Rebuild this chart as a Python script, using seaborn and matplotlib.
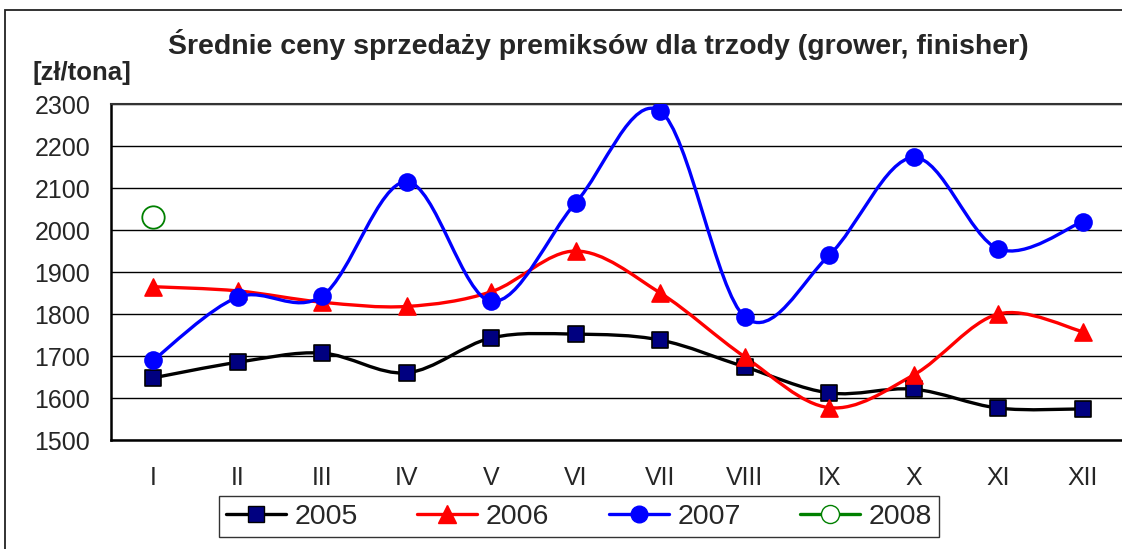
import numpy as np
import matplotlib
matplotlib.use('Agg')
import matplotlib.pyplot as plt
from matplotlib.path import Path
from matplotlib.patches import PathPatch, Rectangle
from matplotlib.lines import Line2D
import seaborn as sns

months = ['I', 'II', 'III', 'IV', 'V', 'VI', 'VII', 'VIII', 'IX', 'X', 'XI', 'XII']
prices_2005 = [1648, 1685, 1707, 1660, 1743, 1752, 1738, 1674, 1612, 1621, 1576, 1574]
prices_2006 = [1865, 1855, 1828, 1818, 1853, 1950, 1850, 1698, 1577, 1655, 1800, 1758]
prices_2007 = [1690, 1840, 1843, 2115, 1830, 2065, 2283, 1793, 1940, 2173, 1955, 2020]
prices_2008 = [2030]
years = ['2005', '2006', '2007', '2008']

sns.set_style('white')
plt.rcParams['font.family'] = ['Liberation Sans', 'DejaVu Sans']


def smooth_path(xs, ys):
    # Excel-style smoothed line: cubic Bezier through the points (Catmull-Rom control points)
    pts = np.column_stack([xs, ys]).astype(float)
    n = len(pts)
    verts = [pts[0]]
    codes = [Path.MOVETO]
    for i in range(n - 1):
        p0 = pts[max(i - 1, 0)]
        p1 = pts[i]
        p2 = pts[i + 1]
        p3 = pts[min(i + 2, n - 1)]
        verts += [p1 + (p2 - p0) / 6, p2 - (p3 - p1) / 6, p2]
        codes += [Path.CURVE4] * 3
    return Path(verts, codes)


fig = plt.figure(figsize=(11.22, 5.49), dpi=100)
ax = fig.add_axes([111 / 1122, 1 - 440 / 549, 1014 / 1122, 336 / 549])

styles = [
    (prices_2005, 'black', 's', '#000080', 'black', 130),
    (prices_2006, '#ff0000', '^', '#ff0000', '#ff0000', 150),
    (prices_2007, '#0000ff', 'o', '#0000ff', '#0000ff', 150),
]
for vals, lc, mk, fc, ec, sz in styles:
    x = np.arange(len(vals))
    ax.add_patch(PathPatch(smooth_path(x, vals), facecolor='none', edgecolor=lc,
                           lw=2.4, zorder=3, capstyle='round', joinstyle='round'))
    sns.scatterplot(x=x, y=vals, marker=mk, s=sz, color=fc, edgecolor=ec,
                    linewidth=1.2, ax=ax, zorder=4, legend=False)

sns.scatterplot(x=np.arange(len(prices_2008)), y=prices_2008, marker='o', s=260,
                facecolor='white', edgecolor='#008000', linewidth=1.3, ax=ax,
                zorder=4, legend=False)

ax.set_xlim(-0.5, 11.5)
ax.set_ylim(1500, 2300)
ax.set_yticks(np.arange(1500, 2301, 100))
ax.set_xticks(np.arange(12))
ax.set_xticklabels(months)
ax.set_xticks(np.arange(-0.5, 12, 1), minor=True)
ax.tick_params(axis='x', which='major', length=0, pad=19, labelsize=18)
ax.tick_params(axis='x', which='minor', direction='in', length=7, width=1, color='black')
ax.tick_params(axis='y', direction='out', length=6, width=1, color='black', pad=9, labelsize=18)
ax.yaxis.grid(True, color='black', lw=1)
ax.set_axisbelow(True)
for side in ['left', 'bottom']:
    ax.spines[side].set_color('black')
    ax.spines[side].set_linewidth(1.8)
ax.spines['top'].set_color('#333333')
ax.spines['top'].set_linewidth(1.5)
ax.spines['right'].set_visible(False)
ax.set_xlabel('')
ax.set_ylabel('')

fig.text(598 / 1122, 1 - 45 / 549, 'Średnie ceny sprzedaży premiksów dla trzody (grower, finisher)',
         ha='center', va='center', fontsize=20.5, fontweight='bold')
fig.text(32 / 1122, 1 - 73 / 549, '[zł/tona]', ha='left', va='center',
         fontsize=18.5, fontweight='bold')

handles = [
    Line2D([], [], color='black', lw=2.4, marker='s', ms=12, mfc='#000080', mec='black'),
    Line2D([], [], color='#ff0000', lw=2.4, marker='^', ms=13, mfc='#ff0000', mec='#ff0000'),
    Line2D([], [], color='#0000ff', lw=2.4, marker='o', ms=12, mfc='#0000ff', mec='#0000ff'),
    Line2D([], [], color='#008000', lw=2.4, marker='o', ms=13, mfc='white', mec='#008000'),
]
leg = fig.legend(handles, years, loc='center', bbox_to_anchor=(579 / 1122, 1 - 516.5 / 549),
                 ncol=4, frameon=True, fancybox=False, edgecolor='black', fontsize=20.5,
                 handlelength=2.1, handletextpad=0.3, columnspacing=2.1, borderpad=0.25,
                 borderaxespad=0)
leg.get_frame().set_linewidth(1)

fig.add_artist(Rectangle((5 / 1122, -0.1), 1.2, 1.1 - 10 / 549, transform=fig.transFigure,
                         fill=False, edgecolor='#222222', lw=1.3))

fig.savefig('out.png', dpi=100, facecolor='white')
